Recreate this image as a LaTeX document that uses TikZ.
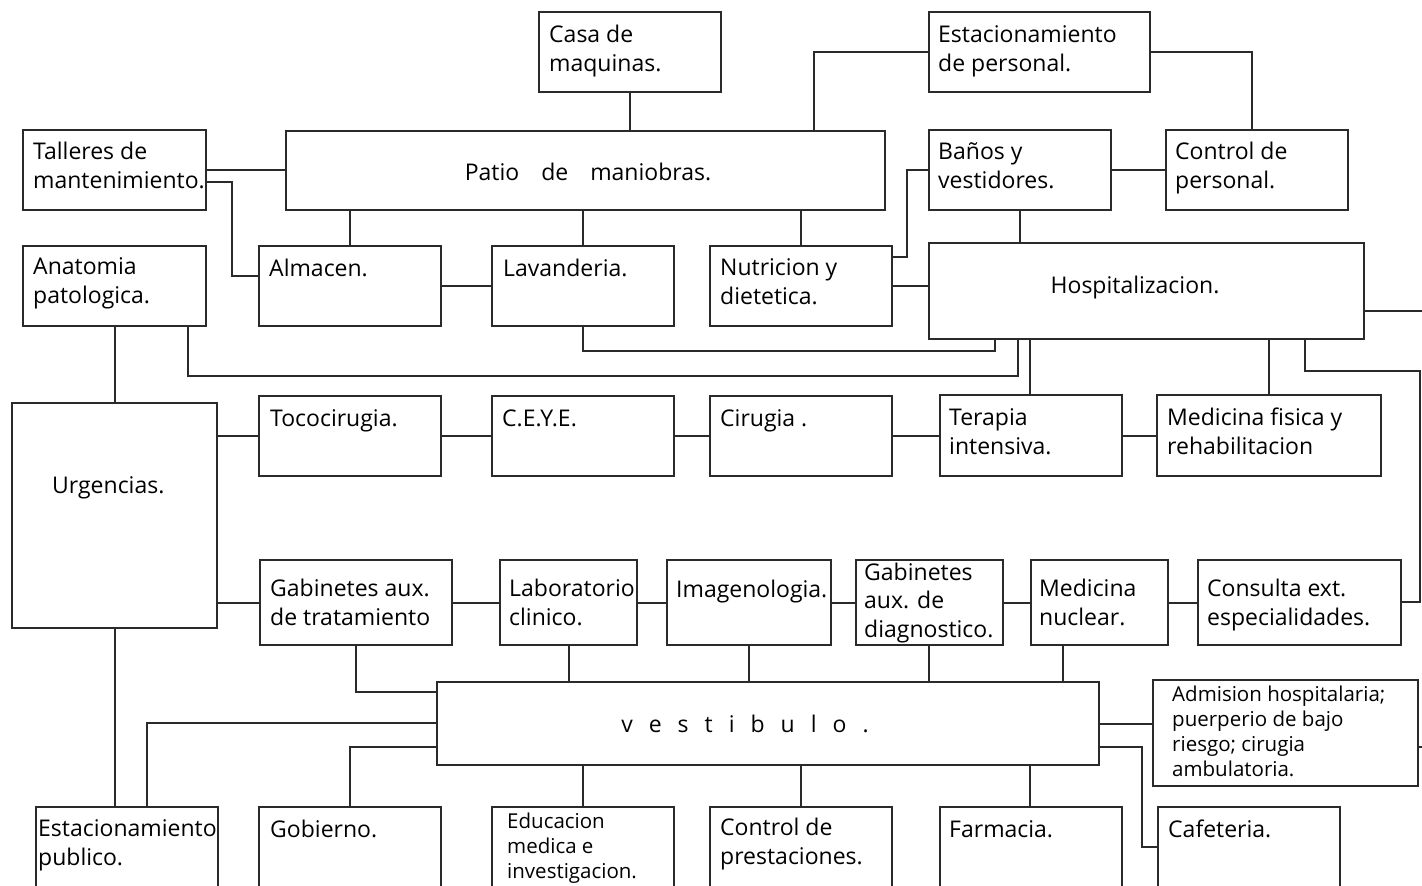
\documentclass[tikz,border=0pt]{standalone}
\usepackage{fontspec}
\setmainfont{Open Sans}
\tikzset{
  box/.style={draw=lnc, line width=1.2pt, rectangle, anchor=north west, inner sep=0pt, outer sep=0pt},
  txt/.style={anchor=base west, inner sep=0pt, align=left, text=black, font=\fontsize{23}{28.5}\selectfont},
  stxt/.style={anchor=base west, inner sep=0pt, align=left, text=black, font=\fontsize{20.5}{25}\selectfont},
  ln/.style={draw=lnc, line width=1.2pt}
}
\definecolor{lnc}{HTML}{2A2A2A}
\begin{document}
\begin{tikzpicture}[x=1pt,y=-1pt]
\path[use as bounding box, clip] (0,0) rectangle (1422,886);
\fill[white] (0,0) rectangle (1422,886);
% boxes
\node[box, minimum width=182, minimum height=80] (casa) at (539,12) {};
\node[box, minimum width=221, minimum height=80] (estper) at (929,12) {};
\node[box, minimum width=183, minimum height=80] (talleres) at (23,130) {};
\node[box, minimum width=599, minimum height=79] (patio) at (286,131) {};
\node[box, minimum width=182, minimum height=80] (banos) at (929,130) {};
\node[box, minimum width=182, minimum height=80] (ctrlper) at (1166,130) {};
\node[box, minimum width=183, minimum height=80] (anatomia) at (23,246) {};
\node[box, minimum width=182, minimum height=80] (almacen) at (259,246) {};
\node[box, minimum width=182, minimum height=80] (lavanderia) at (492,246) {};
\node[box, minimum width=182, minimum height=80] (nutricion) at (710,246) {};
\node[box, minimum width=435, minimum height=96] (hosp) at (929,243) {};
\node[box, minimum width=205, minimum height=225] (urg) at (12,403) {};
\node[box, minimum width=182, minimum height=80] (toco) at (259,396) {};
\node[box, minimum width=182, minimum height=80] (ceye) at (492,396) {};
\node[box, minimum width=182, minimum height=80] (cirugia) at (710,396) {};
\node[box, minimum width=182, minimum height=81] (terapia) at (940,395) {};
\node[box, minimum width=224, minimum height=81] (medfis) at (1157,395) {};
\node[box, minimum width=192, minimum height=85] (gabtrat) at (260,560) {};
\node[box, minimum width=137, minimum height=85] (lab) at (500,560) {};
\node[box, minimum width=164, minimum height=85] (imagen) at (667,560) {};
\node[box, minimum width=147, minimum height=85] (gabdiag) at (856,560) {};
\node[box, minimum width=137, minimum height=85] (mednuc) at (1031,560) {};
\node[box, minimum width=203, minimum height=85] (consulta) at (1198,560) {};
\node[box, minimum width=662, minimum height=83] (vest) at (437,682) {};
\node[box, minimum width=265, minimum height=106] (admision) at (1153,680) {};
\node[box, minimum width=182, minimum height=110] (estpub) at (36,807) {};
\node[box, minimum width=182, minimum height=110] (gobierno) at (259,807) {};
\node[box, minimum width=182, minimum height=110] (educ) at (492,807) {};
\node[box, minimum width=182, minimum height=110] (ctrlprest) at (710,807) {};
\node[box, minimum width=182, minimum height=110] (farmacia) at (940,807) {};
\node[box, minimum width=182, minimum height=110] (cafeteria) at (1158,807) {};
% texts (base anchor = baseline of last line)
\node[txt] (casa-t) at (549,71) {Casa de\\maquinas.};
\node[txt] (estper-t) at (938,71) {Estacionamiento\\de personal.};
\node[txt] (talleres-t) at (33,188) {Talleres de\\mantenimiento.};
\node[txt, anchor=base] (patio-t) at (588,180) {Patio\hspace{22pt}de\hspace{22pt}maniobras.};
\node[txt] (banos-t) at (938,188) {Baños y\\vestidores.};
\node[txt] (ctrlper-t) at (1175,188) {Control de\\personal.};
\node[txt] (anatomia-t) at (33,303) {Anatomia\\patologica.};
\node[txt] (almacen-t) at (269,276) {Almacen.};
\node[txt] (lavanderia-t) at (503,276) {Lavanderia.};
\node[txt] (nutricion-t) at (720,304) {Nutricion y\\dietetica.};
\node[txt, anchor=base] (hosp-t) at (1135,293) {Hospitalizacion.};
\node[txt] (urg-t) at (52,493) {Urgencias.};
\node[txt] (toco-t) at (270,426) {Tococirugia.};
\node[txt] (ceye-t) at (502,426) {C.E.Y.E.};
\node[txt] (cirugia-t) at (720,426) {Cirugia .};
\node[txt] (terapia-t) at (949,454) {Terapia\\intensiva.};
\node[txt] (medfis-t) at (1167,454) {Medicina fisica y\\rehabilitacion};
\node[txt] (gabtrat-t) at (270,625) {Gabinetes aux.\\de tratamiento};
\node[txt] (lab-t) at (509,625) {Laboratorio\\clinico.};
\node[txt] (imagen-t) at (676,597) {Imagenologia.};
\node[txt] (gabdiag-t) at (864,637) {Gabinetes\\aux. de\\diagnostico.};
\node[txt] (mednuc-t) at (1039,625) {Medicina\\nuclear.};
\node[txt] (consulta-t) at (1207,625) {Consulta ext.\\especialidades.};
\node[txt, anchor=base] (vest-t) at (745,732) {v\hspace{16pt}e\hspace{16pt}s\hspace{16pt}t\hspace{16pt}i\hspace{16pt}b\hspace{16pt}u\hspace{16pt}l\hspace{16pt}o\hspace{16pt}.};
\node[stxt] (admision-t) at (1172,776) {Admision hospitalaria;\\puerperio de bajo\\riesgo; cirugia\\ambulatoria.};
\node[txt] (estpub-t) at (38,865) {Estacionamiento\\publico.};
\node[txt] (gobierno-t) at (270,837) {Gobierno.};
\node[stxt] (educ-t) at (507,878) {Educacion\\medica e\\investigacion.};
\node[txt] (ctrlprest-t) at (720,864) {Control de\\prestaciones.};
\node[txt] (farmacia-t) at (949,837) {Farmacia.};
\node[txt] (cafeteria-t) at (1168,837) {Cafeteria.};
% free ends
\coordinate (edgeH) at (1422,311);
\coordinate (edgeA) at (1422,747);
% connectors
\draw[ln] (casa.south) -- (casa.south |- patio.north);
\draw[ln] (estper.west) -| (patio.north -| 814,0);
\draw[ln] (estper.east) -| (ctrlper.north -| 1252,0);
\draw[ln] (talleres.east |- 0,170) -- (patio.west |- 0,170);
\draw[ln] (talleres.east |- 0,182) -- (232,182) -- (232,276) -- (almacen.west |- 0,276);
\draw[ln] (patio.south -| 350,0) -- (almacen.north -| 350,0);
\draw[ln] (patio.south -| 583,0) -- (lavanderia.north -| 583,0);
\draw[ln] (patio.south -| 801,0) -- (nutricion.north -| 801,0);
\draw[ln] (almacen.east |- 0,286) -- (lavanderia.west |- 0,286);
\draw[ln] (nutricion.east |- 0,257) -- (907,257) -- (907,170) -- (banos.west |- 0,170);
\draw[ln] (nutricion.east |- 0,286) -- (hosp.west |- 0,286);
\draw[ln] (banos.east |- 0,170) -- (ctrlper.west |- 0,170);
\draw[ln] (banos.south -| 1020,0) -- (hosp.north -| 1020,0);
\draw[ln] (lavanderia.south -| 583,0) -- (583,351) -- (995,351) -- (hosp.south -| 995,0);
\draw[ln] (anatomia.south -| 188,0) -- (188,376) -- (1018,376) -- (hosp.south -| 1018,0);
\draw[ln] (anatomia.south -| 115,0) -- (urg.north -| 115,0);
\draw[ln] (hosp.south -| 1030,0) -- (terapia.north -| 1030,0);
\draw[ln] (hosp.south -| 1269,0) -- (medfis.north -| 1269,0);
\draw[ln] (hosp.south -| 1305,0) -- (1305,371) -- (1420,371) -- (1420,602) -- (consulta.east |- 0,602);
\draw[ln] (hosp.east |- edgeH) -- (edgeH);
\draw[ln] (urg.east |- 0,436) -- (toco.west |- 0,436);
\draw[ln] (toco.east |- 0,436) -- (ceye.west |- 0,436);
\draw[ln] (ceye.east |- 0,436) -- (cirugia.west |- 0,436);
\draw[ln] (cirugia.east |- 0,436) -- (terapia.west |- 0,436);
\draw[ln] (terapia.east |- 0,436) -- (medfis.west |- 0,436);
\draw[ln] (urg.east |- 0,603) -- (gabtrat.west |- 0,603);
\draw[ln] (gabtrat.east |- 0,603) -- (lab.west |- 0,603);
\draw[ln] (lab.east |- 0,603) -- (imagen.west |- 0,603);
\draw[ln] (imagen.east |- 0,603) -- (gabdiag.west |- 0,603);
\draw[ln] (gabdiag.east |- 0,603) -- (mednuc.west |- 0,603);
\draw[ln] (mednuc.east |- 0,603) -- (consulta.west |- 0,603);
\draw[ln] (gabtrat.south -| 356,0) -- (356,692) -- (vest.west |- 0,692);
\draw[ln] (lab.south -| 569,0) -- (vest.north -| 569,0);
\draw[ln] (imagen.south -| 749,0) -- (vest.north -| 749,0);
\draw[ln] (gabdiag.south -| 929,0) -- (vest.north -| 929,0);
\draw[ln] (mednuc.south -| 1063,0) -- (vest.north -| 1063,0);
\draw[ln] (vest.west |- 0,723) -- (147,723) -- (estpub.north -| 147,0);
\draw[ln] (urg.south -| 115,0) -- (estpub.north -| 115,0);
\draw[ln] (vest.west |- 0,747) -- (350,747) -- (gobierno.north -| 350,0);
\draw[ln] (vest.south -| 583,0) -- (educ.north -| 583,0);
\draw[ln] (vest.south -| 801,0) -- (ctrlprest.north -| 801,0);
\draw[ln] (vest.south -| 1030,0) -- (farmacia.north -| 1030,0);
\draw[ln] (vest.east |- 0,724) -- (admision.west |- 0,724);
\draw[ln] (vest.east |- 0,747) -- (1142,747) -- (1142,847) -- (cafeteria.west |- 0,847);
\draw[ln] (admision.east |- edgeA) -- (edgeA);
\end{tikzpicture}
\end{document}
